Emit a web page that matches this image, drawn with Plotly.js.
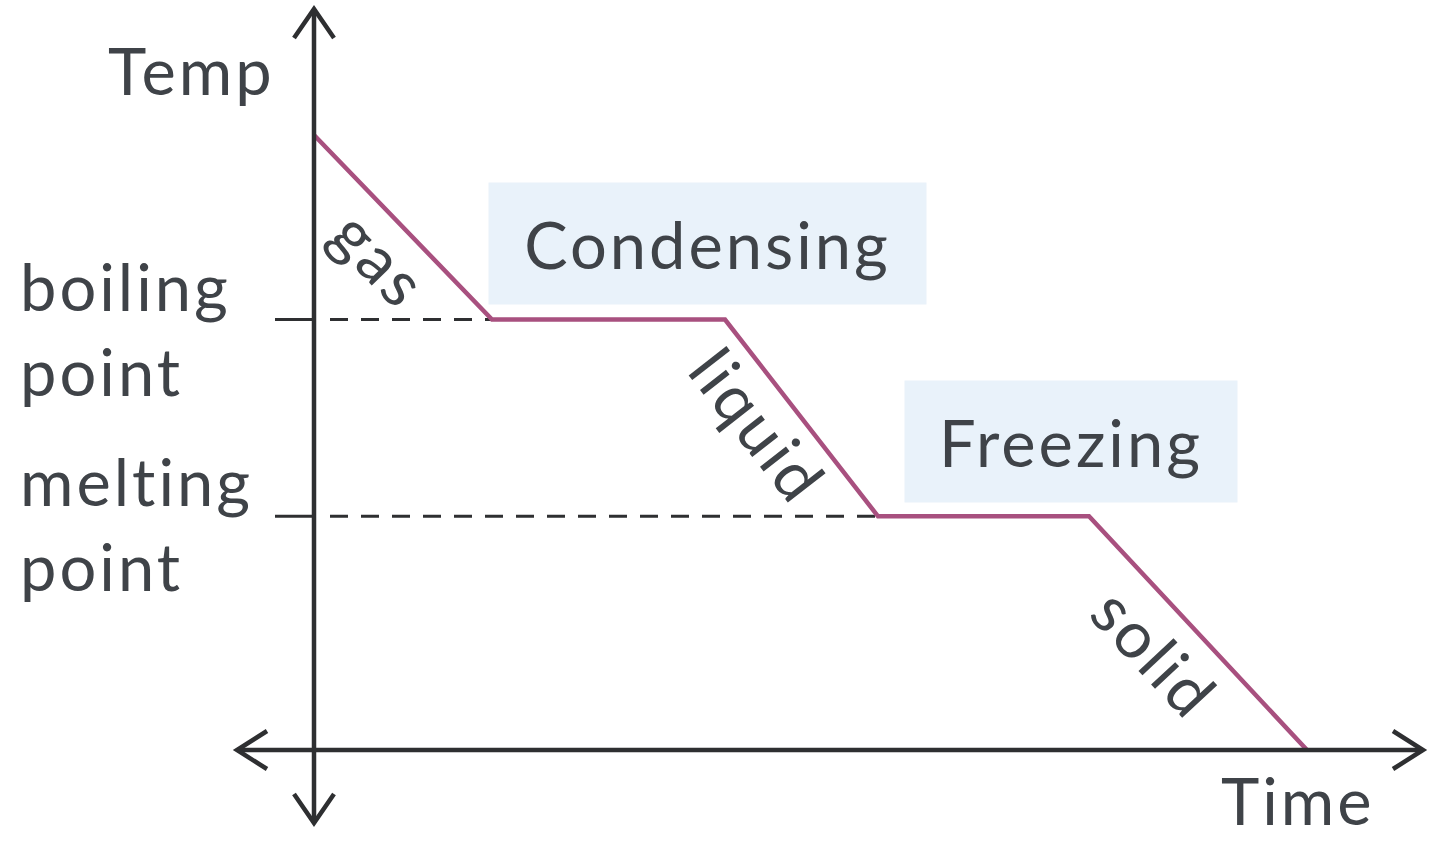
<!DOCTYPE html>
<html><head><meta charset="utf-8">
<script src="https://cdn.plot.ly/plotly-3.0.1.min.js"></script>
<style>
html,body{margin:0;padding:0;background:#fff;overflow:hidden}
svg text{letter-spacing:3px;font-variant-ligatures:none;font-feature-settings:"liga" 0,"clig" 0}
</style>
</head><body><div id="chart" style="width:1440px;height:843px"></div>
<script>
// ---- data (arbitrary units) ----
const time = [0, 1.78, 4.11, 5.64, 7.75, 9.93];
const temperature = [10, 7, 7, 3.8, 3.8, 0];
const boilingPoint = 7;
const meltingPoint = 3.8;
const phaseLabels = ['gas', 'liquid', 'solid'];
const changeLabels = ['Condensing', 'Freezing'];
const levelLabels = ['boiling<br>point', 'melting<br>point'];
const axisLabels = ['Temp', 'Time'];

// ---- layout helpers (pixel -> axis units) ----
const W = 1440, H = 843;
const xRange = [-3.14, 11.26];
const yRange = [-1.512, 12.195];
const px2x = p => xRange[0] + p * (xRange[1] - xRange[0]) / W;
const px2y = p => yRange[1] - p * (yRange[1] - yRange[0]) / H;
const dx = p => p * (xRange[1] - xRange[0]) / W;
const dy = p => p * (yRange[1] - yRange[0]) / H;

const INK = '#2e2f31';
const TXT = '#3f4348';
const CURVE = '#a8507f';
const BOX = '#e9f2fa';
const FONT = 'Lato, "Open Sans", sans-serif';

// axis positions
const ax0 = 0, ay0 = 0;
const tickLeft = dx(39);
const dashStart = dx(16);

const traces = [
  {x: [ax0 + dashStart, time[1]], y: [boilingPoint, boilingPoint], mode: 'lines',
   line: {color: INK, width: 3, dash: '18px,13px'}, hoverinfo: 'skip'},
  {x: [ax0 + dashStart, time[3]], y: [meltingPoint, meltingPoint], mode: 'lines',
   line: {color: INK, width: 3, dash: '18px,13px'}, hoverinfo: 'skip'},
  {x: [ax0 - tickLeft, ax0], y: [boilingPoint, boilingPoint], mode: 'lines',
   line: {color: INK, width: 3}, hoverinfo: 'skip'},
  {x: [ax0 - tickLeft, ax0], y: [meltingPoint, meltingPoint], mode: 'lines',
   line: {color: INK, width: 3}, hoverinfo: 'skip'},
  {x: time, y: temperature, mode: 'lines',
   line: {color: CURVE, width: 4.5}, hoverinfo: 'skip'}
];

function P(x, y) { return x + ',' + y; }
const yTop = px2y(9), yBot = px2y(823), xL = px2x(237), xR = px2x(1423);
const shapes = [
  {type: 'line', x0: ax0, x1: ax0, y0: yBot, y1: yTop, line: {color: INK, width: 4.5}},
  {type: 'line', x0: xL, x1: xR, y0: ay0, y1: ay0, line: {color: INK, width: 4.5}},
  {type: 'path', path: 'M' + P(ax0 - dx(20), yTop - dy(29)) + 'L' + P(ax0, yTop) + 'L' + P(ax0 + dx(20), yTop - dy(29)),
   line: {color: INK, width: 4.5}},
  {type: 'path', path: 'M' + P(ax0 - dx(20), yBot + dy(29)) + 'L' + P(ax0, yBot) + 'L' + P(ax0 + dx(20), yBot + dy(29)),
   line: {color: INK, width: 4.5}},
  {type: 'path', path: 'M' + P(xL + dx(30), ay0 + dy(19)) + 'L' + P(xL, ay0) + 'L' + P(xL + dx(30), ay0 - dy(19)),
   line: {color: INK, width: 4.5}},
  {type: 'path', path: 'M' + P(xR - dx(30), ay0 + dy(19)) + 'L' + P(xR, ay0) + 'L' + P(xR - dx(30), ay0 - dy(19)),
   line: {color: INK, width: 4.5}}
];

const fs = 65;
const f = {family: FONT, size: fs, color: TXT};
const annotations = [
  {text: axisLabels[0], x: px2x(191), y: px2y(70), showarrow: false, font: f},
  {text: axisLabels[1], x: px2x(1298), y: px2y(800), showarrow: false, font: f},
  {text: levelLabels[0], x: px2x(18), y: px2y(328), xanchor: 'left', align: 'left', showarrow: false, font: f},
  {text: levelLabels[1], x: px2x(18), y: px2y(523), xanchor: 'left', align: 'left', showarrow: false, font: f},
  {text: changeLabels[0], x: px2x(707), y: px2y(243), showarrow: false, font: f,
   bgcolor: BOX, width: 437, height: 121, borderpad: 0},
  {text: changeLabels[1], x: px2x(1071), y: px2y(441), showarrow: false, font: f,
   bgcolor: BOX, width: 332, height: 121, borderpad: 0},
  {text: phaseLabels[0], x: px2x(380), y: px2y(258), textangle: 46, showarrow: false, font: f},
  {text: phaseLabels[1], x: px2x(759), y: px2y(425), textangle: 52, showarrow: false, font: f},
  {text: phaseLabels[2], x: px2x(1155), y: px2y(652), textangle: 47, showarrow: false, font: f}
];

const hidden = {visible: false, showgrid: false, zeroline: false, fixedrange: true};
const layout = {
  width: W, height: H,
  margin: {l: 0, r: 0, t: 0, b: 0, pad: 0},
  paper_bgcolor: '#fff', plot_bgcolor: '#fff',
  showlegend: false,
  xaxis: Object.assign({}, hidden, {range: xRange}),
  yaxis: Object.assign({}, hidden, {range: yRange}),
  shapes: shapes,
  annotations: annotations
};
Plotly.newPlot('chart', traces, layout, {displayModeBar: false, staticPlot: true});
</script></body></html>
